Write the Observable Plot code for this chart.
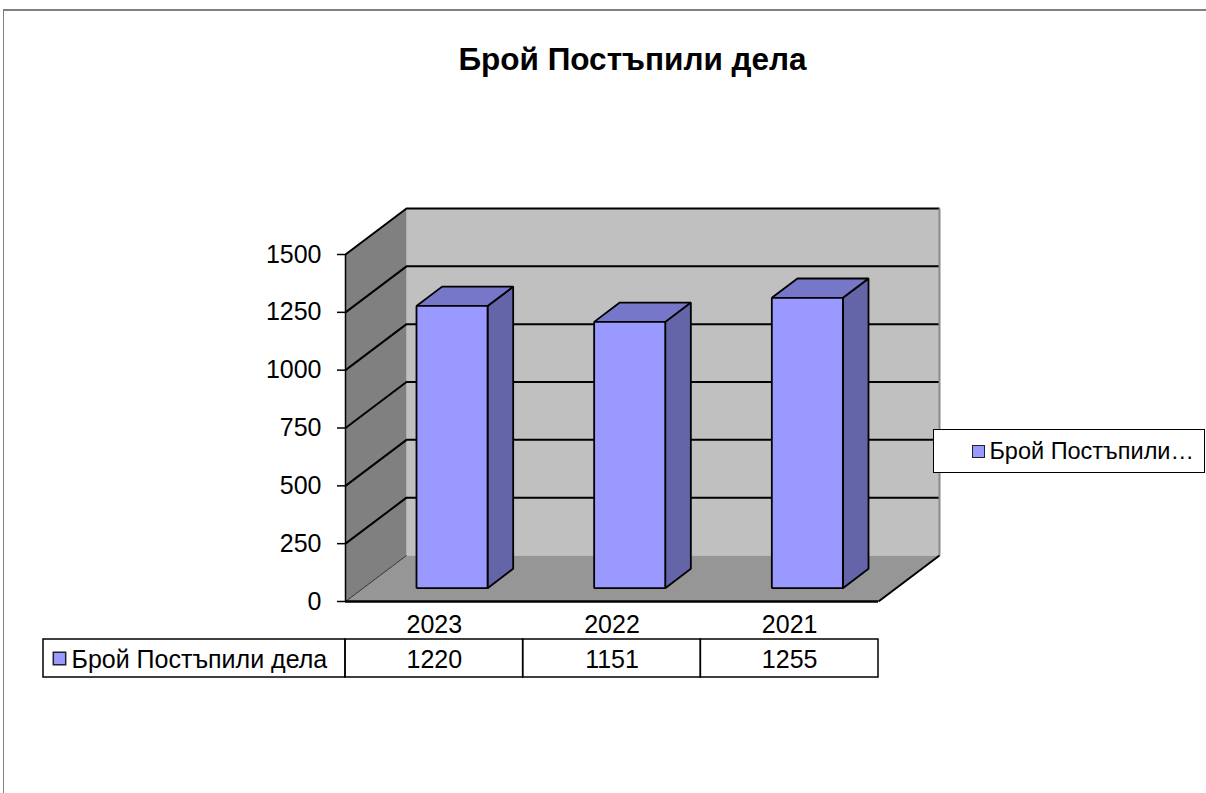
<!DOCTYPE html>
<html>
<head>
<meta charset="utf-8">
<script src="https://cdn.jsdelivr.net/npm/d3@7"></script>
<script src="https://cdn.jsdelivr.net/npm/@observablehq/plot@0.6"></script>
<style>
  body { margin: 0; background: #fff; font-family: "Liberation Sans", Arial, sans-serif; }
  #wrap { position: relative; width: 1206px; height: 793px; overflow: hidden; background: #fff; }
  #border { position: absolute; left: 3px; top: 9px; width: 1400px; height: 1000px;
            border-top: 2px solid #808080; border-left: 1px solid #808080; }
  #title { position: absolute; left: 0; top: 41px; width: 1265px; text-align: center;
           font-weight: bold; font-size: 31.5px; line-height: 36px; color: #000; }
  #chart, #table { position: absolute; left: 0; }
  #chart { top: 0; }
  #table { top: 600px; }
  #legend { position: absolute; left: 933px; top: 429px; width: 272px; height: 44px;
            border: 1px solid #000; background: #fff; box-sizing: border-box;
            display: flex; align-items: center; justify-content: flex-end; padding-right: 10px;
            font-size: 23.5px; white-space: nowrap; }
  #legend .key { display: inline-block; width: 13px; height: 13px; background: #9999ff;
                 border: 1.5px solid #222; box-sizing: border-box; margin-right: 4px; }
</style>
</head>
<body>
<div id="wrap">
  <div id="border"></div>
  <div id="chart"></div>
  <div id="table"></div>
  <div id="title"></div>
  <div id="legend"><span class="key"></span><span id="legtext"></span></div>
</div>
<script>
// ---- data ----
const seriesName = "Брой Постъпили дела";
const categories = ["2023", "2022", "2021"];
const values = [1220, 1151, 1255];
const yTicks = [0, 250, 500, 750, 1000, 1250, 1500];
const legendLabel = "Брой Постъпили…";

document.getElementById("title").textContent = seriesName;
document.getElementById("legtext").textContent = legendLabel;

// ---- layout constants (pixels) ----
const X0 = 345, X1 = 878, Y0 = 601, Y1 = 254;
const DEPTH_DX = 61, DEPTH_DY = 46;
const UNIT = (X1 - X0) / categories.length;          // px per category
const VPX = (Y0 - Y1) / yTicks[yTicks.length - 1];   // px per value unit
const DU = DEPTH_DX / UNIT, DV = DEPTH_DY / VPX;
const VMAX = yTicks[yTicks.length - 1];
const N = categories.length;
const FS = 25;

// oblique projection in data units: u = category position, v = value, w = depth (0 front .. 1 back)
const P = (u, v, w) => ({x: u + w * DU, y: v + w * DV});
const closed = (id, pts) => [...pts, pts[0]].map(p => ({...p, id}));
const open = (id, pts) => pts.map(p => ({...p, id}));

// walls
const backWall = closed("back", [P(0, 0, 1), P(N, 0, 1), P(N, VMAX, 1), P(0, VMAX, 1)]);
const sideWall = closed("side", [P(0, 0, 0), P(0, 0, 1), P(0, VMAX, 1), P(0, VMAX, 0)]);
const floor = closed("floor", [P(0, 0, 0), P(N, 0, 0), P(N, 0, 1), P(0, 0, 1)]);
const grid = yTicks.filter(v => v > 0).flatMap(v => open(v, [P(0, v, 0), P(0, v, 1), P(N, v, 1)]));

// bars
const U0 = 0.3, U1 = 0.7, W0 = 0.29, W1 = 0.71;
const bars = categories.map((c, i) => ({c, i, v: values[i]}));
const fronts = bars.flatMap(b => closed(b.c, [P(b.i + U0, 0, W0), P(b.i + U1, 0, W0), P(b.i + U1, b.v, W0), P(b.i + U0, b.v, W0)]));
const sides = bars.flatMap(b => closed(b.c, [P(b.i + U1, 0, W0), P(b.i + U1, 0, W1), P(b.i + U1, b.v, W1), P(b.i + U1, b.v, W0)]));
const tops = bars.flatMap(b => closed(b.c, [P(b.i + U0, b.v, W0), P(b.i + U1, b.v, W0), P(b.i + U1, b.v, W1), P(b.i + U0, b.v, W1)]));

const poly = (data, fill, stroke, sw) => Plot.line(data, {x: "x", y: "y", z: "id", fill, stroke: stroke || "none", strokeWidth: sw || 1, strokeLinejoin: "miter", strokeLinecap: "butt", curve: "linear"});

const chart = Plot.plot({
  width: 1206, height: 793,
  marginTop: 0, marginRight: 0, marginBottom: 0, marginLeft: 0,
  style: {background: "transparent", fontFamily: "Liberation Sans, Arial, sans-serif"},
  x: {type: "linear", domain: [0, N], range: [X0, X1], axis: null},
  y: {type: "linear", domain: [0, VMAX], range: [Y0, Y1], axis: null},
  marks: [
    poly(backWall, "#c0c0c0"),
    poly(sideWall, "#808080"),
    poly(floor, "#969696"),
    poly(open("sb", [P(0, 0, 0), P(0, 0, 1)]), "none", "#303030", 1),
    poly(grid, "none", "#000", 2),
    poly(open("re", [P(N, 0, 1), P(N, VMAX, 1)]), "none", "#8a8a8a", 2),
    poly(open("fe", [P(N, 0, 0), P(N, 0, 1)]), "none", "#000", 2),
    Plot.ruleY([0], {x1: 0, x2: N, stroke: "#000", strokeWidth: 2.5}),
    Plot.ruleX([0], {y1: 0, y2: VMAX, stroke: "#000", strokeWidth: 1.5}),
    Plot.ruleY(yTicks, {y: d => d, x1: -8 / UNIT, x2: 0, stroke: "#000", strokeWidth: 1.5}),
    Plot.text(yTicks, {x: 0, y: d => d, text: d => String(d), textAnchor: "end", dx: -24, fontSize: FS, fill: "#000"}),
    poly(sides, "#6464a8", "#000", 1.8),
    poly(tops, "#7777c9", "#000", 1.8),
    poly(fronts, "#9999ff", "#000", 1.8)
  ]
});
document.getElementById("chart").appendChild(chart);

// ---- data table ----
const LABEL_U = (43 - X0) / UNIT;
const rows = ["cat", "val"];
const cells = [{x1: LABEL_U, x2: 0}, ...categories.map((c, i) => ({x1: i, x2: i + 1}))];
const table = Plot.plot({
  width: 1206, height: 80,
  marginTop: 0, marginRight: 0, marginBottom: 0, marginLeft: 0,
  style: {background: "transparent", fontFamily: "Liberation Sans, Arial, sans-serif"},
  x: {type: "linear", domain: [0, N], range: [X0, X1], axis: null},
  y: {type: "band", domain: rows, range: [1, 77], padding: 0, axis: null},
  marks: [
    Plot.ruleX(d3.range(N + 1), {x: d => d, y: () => "cat", stroke: "#555", strokeWidth: 1}),
    Plot.rect(cells, {x1: "x1", x2: "x2", y: () => "val", fill: "none", stroke: "#000", strokeWidth: 1.5}),
    Plot.text(categories, {x: (d, i) => i + 0.5, y: () => "cat", text: d => d, fontSize: FS, fill: "#000", dy: 4}),
    Plot.text(values, {x: (d, i) => i + 0.5, y: () => "val", text: d => String(d), fontSize: FS, fill: "#000", dy: 1}),
    Plot.dot([seriesName], {x: LABEL_U, y: () => "val", symbol: "square", r: 7, dx: 16, fill: "#9999ff", stroke: "#222", strokeWidth: 1.5}),
    Plot.text([seriesName], {x: LABEL_U, y: () => "val", text: d => d, textAnchor: "start", dx: 28, fontSize: FS, fill: "#000", dy: 1})
  ]
});
document.getElementById("table").appendChild(table);
</script>
</body>
</html>
